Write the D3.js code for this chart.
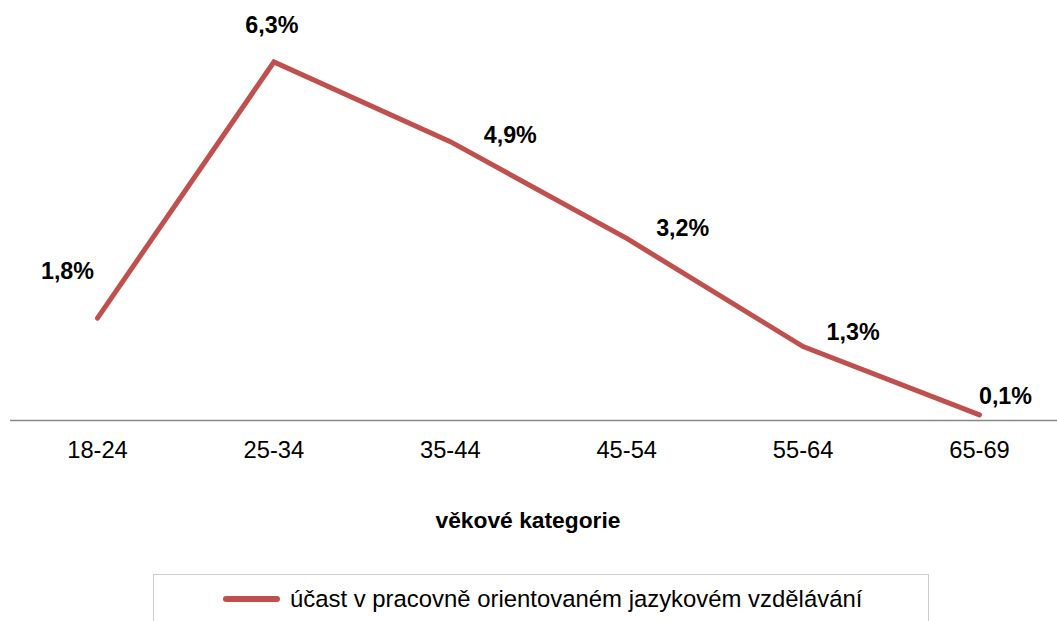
<!DOCTYPE html>
<html>
<head>
<meta charset="utf-8">
<script src="https://cdn.jsdelivr.net/npm/d3@7"></script>
<style>
  body { margin: 0; background: #fff; }
  svg { display: block; font-family: "Liberation Sans", Arial, sans-serif; }
</style>
</head>
<body>
<div id="chart"></div>
<script>
const categories = ["18-24", "25-34", "35-44", "45-54", "55-64", "65-69"]
const values = [1.8, 6.3, 4.9, 3.2, 1.3, 0.1]
const valueLabels = ["1,8%", "6,3%", "4,9%", "3,2%", "1,3%", "0,1%"]
const seriesName = "účast v pracovně orientovaném jazykovém vzdělávání"
const axisTitle = "věkové kategorie"

// label placement relative to each point (dx, dy of baseline)
const labelOffsets = [[-30, -39], [-2, -29], [60, 1], [56, -2], [50, -7], [26, -11]]

const width = 1057
const height = 621
const red = "#c0504d"

const svg = d3.select("#chart")
  .append("svg")
  .attr("width", width)
  .attr("height", height)

const x = d3.scaleBand()
  .domain(categories)
  .range([9.3, 1067.7])

const y = d3.scaleLinear()
  .domain([0, 6.3])
  .range([420.5, 62])

const cx = d => x(d) + x.bandwidth() / 2

// axis line
svg.append("line")
  .attr("x1", 10)
  .attr("x2", width)
  .attr("y1", y(0))
  .attr("y2", y(0))
  .attr("stroke", "#888")
  .attr("stroke-width", 1.5)

// tick labels
svg.append("g")
  .selectAll("text")
  .data(categories)
  .join("text")
  .attr("x", d => cx(d))
  .attr("y", 458)
  .attr("text-anchor", "middle")
  .attr("font-size", 23.7)
  .attr("fill", "#000")
  .text(d => d)

svg.append("text")
  .attr("x", 528)
  .attr("y", 528)
  .attr("text-anchor", "middle")
  .attr("font-size", 22.8)
  .attr("font-weight", "bold")
  .text(axisTitle)

const line = d3.line()
  .x((d, i) => cx(categories[i]))
  .y(d => y(d))

svg.append("path")
  .datum(values)
  .attr("d", line)
  .attr("fill", "none")
  .attr("stroke", red)
  .attr("stroke-width", 5)
  .attr("stroke-linecap", "round")
  .attr("stroke-linejoin", "miter")

svg.append("g")
  .selectAll("text")
  .data(values)
  .join("text")
  .attr("x", (d, i) => cx(categories[i]) + labelOffsets[i][0])
  .attr("y", (d, i) => y(d) + labelOffsets[i][1])
  .attr("text-anchor", "middle")
  .attr("font-size", 23.3)
  .attr("font-weight", "bold")
  .text((d, i) => valueLabels[i])

// legend
const legend = svg.append("g")
legend.append("rect")
  .attr("x", 153.5)
  .attr("y", 574.5)
  .attr("width", 775)
  .attr("height", 60)
  .attr("fill", "none")
  .attr("stroke", "#999")
  .attr("stroke-width", 1)
  .attr("stroke-dasharray", "1,1")

legend.append("line")
  .attr("x1", 226)
  .attr("x2", 277)
  .attr("y1", 599)
  .attr("y2", 599)
  .attr("stroke", red)
  .attr("stroke-width", 6)
  .attr("stroke-linecap", "round")

legend.append("text")
  .attr("x", 290)
  .attr("y", 607)
  .attr("font-size", 23.9)
  .text(seriesName)
</script>
</body>
</html>
